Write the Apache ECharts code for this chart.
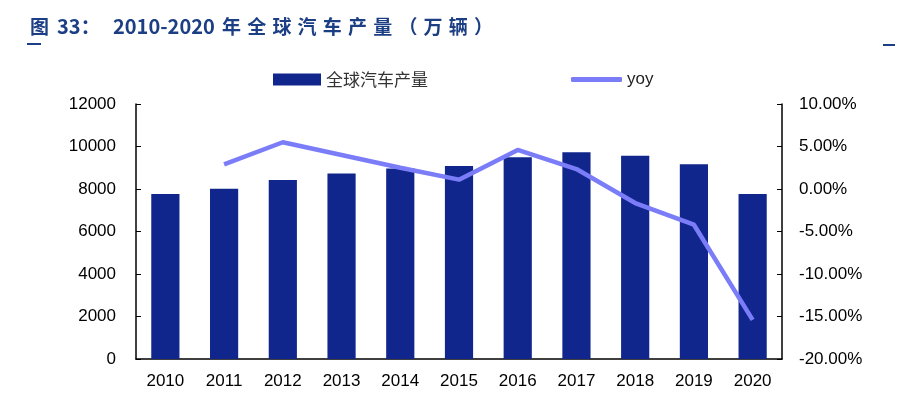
<!DOCTYPE html>
<html>
<head>
<meta charset="utf-8">
<script src="https://cdn.jsdelivr.net/npm/echarts@6/dist/echarts.min.js"></script>
<style>
  html, body { margin: 0; padding: 0; background: #fff; }
  #container { width: 901px; height: 397px; }
</style>
</head>
<body>
<div id="container"></div>
<script type="text/javascript">
    // 数据
    var years = ['2010', '2011', '2012', '2013', '2014', '2015', '2016', '2017', '2018', '2019', '2020'];
    var output = [7760, 8010, 8420, 8730, 8970, 9080, 9500, 9730, 9560, 9170, 7760];   // 全球汽车产量（万辆）
    var yoy = [null, 2.9, 5.5, 4.0, 2.5, 1.1, 4.6, 2.35, -1.65, -4.2, -15.4];         // %
    var titleTail = '年全球汽车产量（万辆）';

    var titleColor = '#1c3e84';
    var axisFont = 'Liberation Sans';

    // 标题：中文字符间距较大，逐字放置
    var graphics = [
        { type: 'text', left: 30, top: 17, style: { text: '图', fill: titleColor, font: 'bold 19px "Noto Sans CJK SC"' } },
        { type: 'text', left: 57, top: 16, style: { text: '33：', fill: titleColor, font: 'bold 20px "Noto Sans CJK SC"' } },
        { type: 'text', left: 113, top: 16, style: { text: '2010-2020', fill: titleColor, font: 'bold 20px "Noto Sans CJK SC"' } },
        { type: 'line', shape: { x1: 27, y1: 44, x2: 41, y2: 44 }, style: { stroke: titleColor, lineWidth: 2 } },
        { type: 'line', shape: { x1: 883, y1: 45, x2: 895, y2: 45 }, style: { stroke: titleColor, lineWidth: 2 } }
    ];
    for (var i = 0; i < titleTail.length; i++) {
        graphics.push({
            type: 'text', left: 222 + i * 25.2, top: 17,
            style: { text: titleTail.charAt(i), fill: titleColor, font: 'bold 19px "Noto Sans CJK SC"' }
        });
    }

    var myChart = echarts.init(document.getElementById('container'), null, { renderer: 'canvas' });
    var option = {
        animation: false,
        graphic: graphics,
        legend: [{
            left: 268, top: 66,
            itemWidth: 48, itemHeight: 12, itemGap: 4,
            textStyle: { fontFamily: 'Noto Sans CJK SC', fontSize: 17, color: '#333' },
            data: [{ name: '全球汽车产量', icon: 'rect' }]
        }, {
            left: 566, top: 66,
            itemWidth: 51, itemHeight: 5, itemGap: 2,
            textStyle: { fontFamily: axisFont, fontSize: 17, color: '#222' },
            data: [{ name: 'yoy', icon: 'roundRect' }]
        }],
        grid: { left: 136, right: 119, top: 104, bottom: 38, outerBoundsMode: 'none' },
        xAxis: {
            type: 'category',
            data: years,
            axisLine: { lineStyle: { color: '#000', width: 1.5 } },
            axisTick: { inside: true, length: 4, lineStyle: { color: '#000' } },
            axisLabel: { color: '#000', fontFamily: axisFont, fontSize: 17, margin: 14 }
        },
        yAxis: [{
            type: 'value', min: 0, max: 12000, interval: 2000,
            splitLine: { show: false },
            axisLine: { show: true, lineStyle: { color: '#000', width: 1.5 } },
            axisTick: { show: true, inside: true, length: 5, lineStyle: { color: '#000' } },
            axisLabel: {
                color: '#000', fontFamily: axisFont, fontSize: 17, margin: 20,
                formatter: function (v) { return String(v); }
            }
        }, {
            type: 'value', min: -20, max: 10, interval: 5,
            splitLine: { show: false },
            axisLine: { show: true, lineStyle: { color: '#000', width: 1.5 } },
            axisTick: { show: true, inside: true, length: 5, lineStyle: { color: '#000' } },
            axisLabel: {
                color: '#000', fontFamily: axisFont, fontSize: 17, margin: 17,
                formatter: function (v) { return v.toFixed(2) + '%'; }
            }
        }],
        series: [{
            name: '全球汽车产量',
            type: 'bar',
            barWidth: '48%',
            itemStyle: { color: '#10268c' },
            data: output
        }, {
            name: 'yoy',
            type: 'line',
            yAxisIndex: 1,
            symbol: 'none',
            lineStyle: { color: '#7b7cf7', width: 4.5 },
            itemStyle: { color: '#7b7cf7' },
            data: yoy
        }]
    };
    myChart.setOption(option);
</script>
</body>
</html>
